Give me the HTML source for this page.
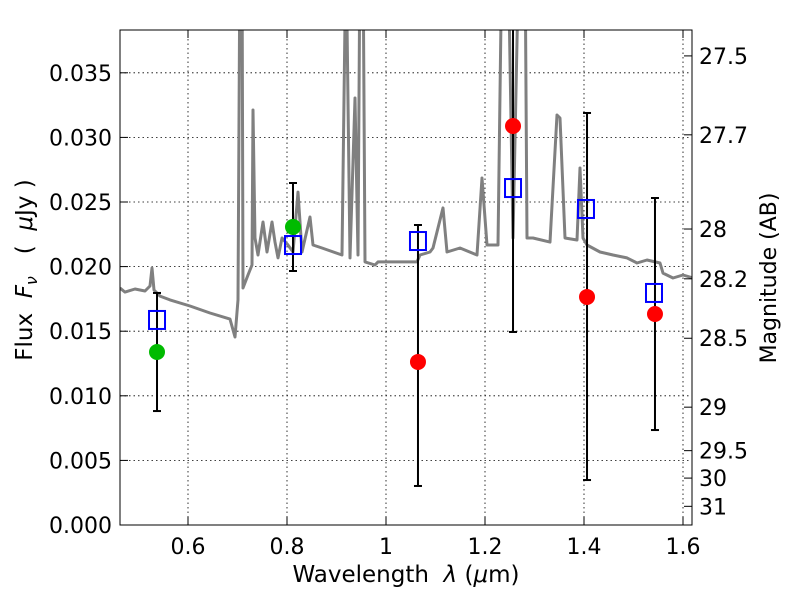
<!DOCTYPE html>
<html><head><meta charset="utf-8"><style>
body{margin:0;background:#fff;}
svg text{font-family:"DejaVu Sans","Liberation Sans",sans-serif;fill:#000;}
</style></head><body>
<svg id="chart" width="800" height="600" xmlns="http://www.w3.org/2000/svg">
<defs><clipPath id="clip"><rect x="120" y="30" width="572" height="495"/></clipPath></defs>
<g id="grid"></g>
<g id="spec" clip-path="url(#clip)"></g>
<g id="marks" clip-path="url(#clip)"></g>
<rect x="120" y="30" width="572" height="495" fill="none" stroke="#000" stroke-width="1"/>
<g id="axes"></g>
<text x="406" y="582" font-size="23" text-anchor="middle" xml:space="preserve">Wavelength  <tspan font-style="italic">λ</tspan> (<tspan font-style="italic">μ</tspan>m)</text>
<text transform="translate(32,270) rotate(-90)" font-size="23" text-anchor="middle" xml:space="preserve">Flux  <tspan font-style="italic">F</tspan><tspan font-style="italic" font-size="16" dy="5">ν</tspan><tspan dy="-5">   (  </tspan><tspan font-style="italic">μ</tspan>Jy )</text>
<text transform="translate(776,278) rotate(-90)" font-size="22" text-anchor="middle">Magnitude (AB)</text>
</svg>
<script>
const specWave=[0.4626,0.4727,0.4929,0.5131,0.5232,0.5273,0.5313,0.5434,0.5636,0.6040,0.6444,0.6848,0.6949,0.7010,0.7051,0.7091,0.7111,0.7212,0.7293,0.7313,0.7354,0.7414,0.7515,0.7596,0.7697,0.7758,0.7818,0.7899,0.8020,0.8121,0.8222,0.8303,0.8465,0.8525,0.8707,0.9111,0.9192,0.9273,0.9374,0.9434,0.9475,0.9535,0.9576,0.9778,0.9838,1.0283,1.0626,1.0687,1.0889,1.0949,1.1152,1.1232,1.1495,1.1838,1.1939,1.2040,1.2263,1.2343,1.2465,1.2566,1.2687,1.2808,1.2848,1.2970,1.3313,1.3455,1.3515,1.3616,1.3859,1.3919,1.3980,1.4061,1.4323,1.4586,1.4869,1.5071,1.5273,1.5535,1.5596,1.5798,1.6000,1.6202];
const specFlux=[0.01834,0.01803,0.01827,0.01811,0.01850,0.01989,0.01819,0.01772,0.01742,0.01695,0.01641,0.01594,0.01455,0.01742,0.045,0.045,0.01834,0.01935,0.02012,0.03212,0.02221,0.02090,0.02345,0.02113,0.02345,0.02190,0.02067,0.02221,0.02167,0.02113,0.02577,0.02113,0.02384,0.02167,0.02144,0.02090,0.045,0.02067,0.03305,0.02090,0.045,0.045,0.02036,0.02012,0.02036,0.02036,0.02036,0.02090,0.02113,0.02144,0.02454,0.02113,0.02144,0.02090,0.02686,0.02167,0.02167,0.045,0.045,0.02221,0.045,0.045,0.02221,0.02221,0.02190,0.03173,0.03150,0.02221,0.02206,0.02763,0.02221,0.02167,0.02113,0.02090,0.02067,0.02028,0.02051,0.02028,0.01950,0.01912,0.01935,0.01912];
const greenWave=[0.5374,0.8121];
const greenFlux=[0.01339,0.02307];
const greenHi=[0.01796,0.02647];
const greenLo=[0.00882,0.01966];
const redWave=[1.0646,1.2566,1.4061,1.5434];
const redFlux=[0.01262,0.03088,0.01765,0.01633];
const redHi=[0.02322,0.045,0.03189,0.02531];
const redLo=[0.00302,0.01494,0.00348,0.00735];
const blueWave=[0.5374,0.8121,1.0646,1.2566,1.4040,1.5414];
const blueFlux=[0.01587,0.02167,0.02198,0.02608,0.02446,0.01796];
const xTicks=[0.6,0.8,1.0,1.2,1.4,1.6];
const xTickLabels=["0.6","0.8","1","1.2","1.4","1.6"];
const yTicks=[0,0.005,0.010,0.015,0.020,0.025,0.030,0.035];
const yTickLabels=["0.000","0.005","0.010","0.015","0.020","0.025","0.030","0.035"];
const magTicks=[27.5,27.7,28,28.2,28.5,29,29.5,30,31];
const magTickLabels=["27.5","27.7","28","28.2","28.5","29","29.5","30","31"];

const NS="http://www.w3.org/2000/svg";
const X=l=>386+(l-1)*495;
const Y=f=>525-f/0.005*64.6;
function mk(tag,attrs,parent){const e=document.createElementNS(NS,tag);for(const k in attrs)e.setAttribute(k,attrs[k]);parent.appendChild(e);return e;}
const grid=document.getElementById('grid'),axes=document.getElementById('axes'),spec=document.getElementById('spec'),marks=document.getElementById('marks');
xTicks.forEach((t,i)=>{const x=X(t);
 const g=mk('line',{x1:x,x2:x,y1:30,y2:525,stroke:'#000','stroke-width':0.8,'stroke-dasharray':'1.5,3'},grid);
 
 
 mk('line',{x1:x,x2:x,y1:525,y2:517,stroke:'#000'},axes);
 mk('line',{x1:x,x2:x,y1:30,y2:38,stroke:'#000'},axes);
 const tx=mk('text',{x:x,y:554,'font-size':22,'text-anchor':'middle'},axes);tx.textContent=xTickLabels[i];
 
 });
yTicks.forEach((t,i)=>{const y=Y(t);
 const g=mk('line',{x1:120,x2:692,y1:y,y2:y,stroke:'#000','stroke-width':0.8,'stroke-dasharray':'1.5,3'},grid);
 
 
 mk('line',{x1:120,x2:128,y1:y,y2:y,stroke:'#000'},axes);
 const tx=mk('text',{x:112,y:y+8,'font-size':22,'text-anchor':'end'},axes);tx.textContent=yTickLabels[i];
 
 });
magTicks.forEach((m,i)=>{const y=Y(Math.pow(10,(23.9-m)/2.5));
 mk('line',{x1:684,x2:692,y1:y,y2:y,stroke:'#000'},axes);
 const tx=mk('text',{x:699,y:y+8,'font-size':22},axes);tx.textContent=magTickLabels[i];
 
 });
const pts=specWave.map((w,i)=>X(w).toFixed(1)+','+Y(specFlux[i]).toFixed(1)).join(' ');
const pl=mk('polyline',{points:pts,fill:'none',stroke:'#808080','stroke-width':3,'stroke-linejoin':'round'},spec);


function errbar(w,lo,hi){const x=X(w);
 const e=mk('g',{},marks);
 
 
 mk('line',{x1:x,x2:x,y1:Y(hi),y2:Y(lo),stroke:'#000','stroke-width':2},e);
 mk('line',{x1:x-4,x2:x+4,y1:Y(hi),y2:Y(hi),stroke:'#000','stroke-width':2},e);
 mk('line',{x1:x-4,x2:x+4,y1:Y(lo),y2:Y(lo),stroke:'#000','stroke-width':2},e);}
greenWave.forEach((w,i)=>errbar(w,greenLo[i],greenHi[i]));
redWave.forEach((w,i)=>errbar(w,redLo[i],redHi[i]));
blueWave.forEach((w,i)=>{
 const r=mk('rect',{x:X(w)-8,y:Y(blueFlux[i])-9,width:16,height:18,fill:'none',stroke:'#0000ff','stroke-width':2},marks);
 
 });
greenWave.forEach((w,i)=>{
 const c=mk('circle',{cx:X(w),cy:Y(greenFlux[i]),r:8,fill:'#00bb00'},marks);
 
 });
redWave.forEach((w,i)=>{
 const c=mk('circle',{cx:X(w),cy:Y(redFlux[i]),r:8,fill:'#ff0000'},marks);
 
 });
</script>
</body></html>
